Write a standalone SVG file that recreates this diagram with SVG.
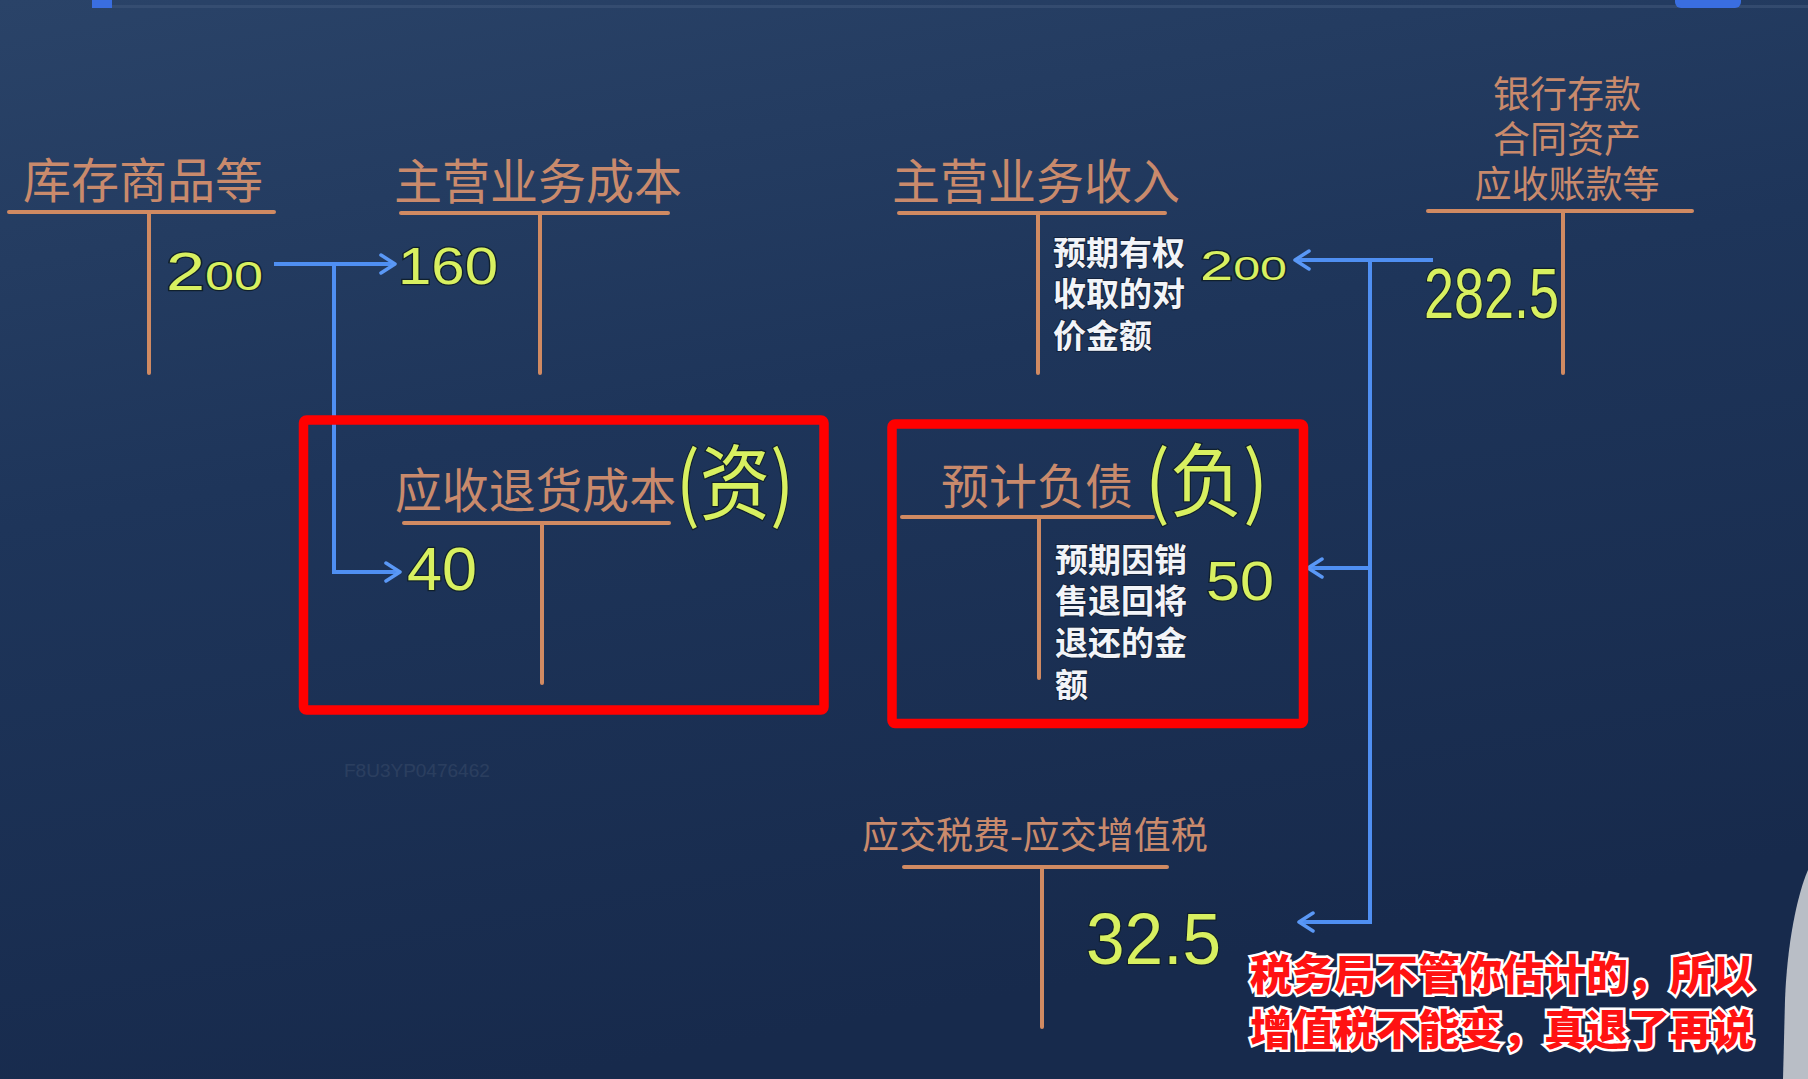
<svg xmlns="http://www.w3.org/2000/svg" width="1808" height="1079" viewBox="0 0 1808 1079">
<defs>
<linearGradient id="bg" x1="0" y1="0" x2="0.3" y2="1">
<stop offset="0" stop-color="#2a4368"/>
<stop offset="0.45" stop-color="#1e355a"/>
<stop offset="1" stop-color="#172a4c"/>
</linearGradient>
<marker id="arr" viewBox="-16 -11 20 22" refX="0" refY="0" markerWidth="20" markerHeight="22" markerUnits="userSpaceOnUse" orient="auto">
<path d="M -14 -9 L 0 0 L -14 9" fill="none" stroke="#5a98f6" stroke-width="3.5" stroke-linecap="round" stroke-linejoin="round"/>
</marker>
<style>
.hdr { font-family: "Noto Sans CJK SC", sans-serif; fill: #c98a6c; font-size: 48px; }
.hdr2 { font-family: "Noto Sans CJK SC", sans-serif; fill: #c98a6c; font-size: 37px; }
.tl { stroke: #d08a62; stroke-width: 4; stroke-linecap: round; fill: none; }
.wt { font-family: "Noto Sans CJK SC", sans-serif; font-weight: bold; fill: #f2f4f8; font-size: 33px; stroke: #14233c; stroke-width: 2; paint-order: stroke; }
.hw { font-family: "Liberation Sans", sans-serif; fill: #d8f060; stroke: #10202c; stroke-width: 2.5; paint-order: stroke; }
.hwc { font-family: "Noto Sans CJK SC", sans-serif; fill: #d8f060; stroke: #10202c; stroke-width: 2.5; paint-order: stroke; }
.conn { stroke: #4f8ff2; stroke-width: 4; fill: none; stroke-linejoin: miter; }
.box { fill: none; stroke: #ff0000; stroke-width: 9.5; }
.note { font-family: "Noto Sans CJK SC", sans-serif; font-weight: 900; fill: #ff1212; stroke: #ffffff; stroke-width: 5; paint-order: stroke; font-size: 42px; }
</style>
</defs>
<rect x="0" y="0" width="1808" height="1079" fill="url(#bg)"/>
<rect x="100" y="5" width="1708" height="3" fill="#3d5578" opacity="0.6"/>
<rect x="92" y="0" width="20" height="8" fill="#3a6ee0"/>
<rect x="1675" y="-6" width="66" height="14" rx="6" fill="#3a6ee0"/>
<path d="M 1808 870 C 1797 895 1787 945 1785 1000 L 1783 1079 L 1808 1079 Z" fill="#b9bec6"/>
<text x="344" y="777" font-family="Liberation Sans, sans-serif" font-size="19" fill="#ffffff" opacity="0.07">F8U3YP0476462</text>

<g id="connectors">
<path class="conn" d="M 274 264 H 395" marker-end="url(#arr)"/>
<path class="conn" d="M 334 264 V 572 H 400" marker-end="url(#arr)"/>
<path class="conn" d="M 1433 260 H 1295" marker-end="url(#arr)"/>
<path class="conn" d="M 1370 260 V 922 H 1299" marker-end="url(#arr)"/>
<path class="conn" d="M 1370 568 H 1308" marker-end="url(#arr)"/>
</g>

<g id="inventory">
<text class="hdr" x="23" y="198">库存商品等</text>
<line class="tl" x1="9" y1="212" x2="274" y2="212"/>
<line class="tl" x1="149" y1="212" x2="149" y2="373"/>
<text class="hw" x="166" y="290" font-size="54" textLength="97" lengthAdjust="spacingAndGlyphs">2<tspan font-size="40">00</tspan></text>
</g>

<g id="main-cost">
<text class="hdr" x="394" y="199">主营业务成本</text>
<line class="tl" x1="401" y1="213" x2="668" y2="213"/>
<line class="tl" x1="540" y1="213" x2="540" y2="373"/>
<text class="hw" x="398" y="284" font-size="52" textLength="100" lengthAdjust="spacingAndGlyphs">160</text>
</g>

<g id="main-revenue">
<text class="hdr" x="892" y="199">主营业务收入</text>
<line class="tl" x1="899" y1="213" x2="1165" y2="213"/>
<line class="tl" x1="1038" y1="213" x2="1038" y2="373"/>
<text class="wt" x="1053" y="265">预期有权<tspan x="1053" dy="41">收取的对</tspan><tspan x="1053" dy="42">价金额</tspan></text>
<text class="hw" x="1200" y="280" font-size="42" textLength="87" lengthAdjust="spacingAndGlyphs">2<tspan font-size="34">00</tspan></text>
</g>

<g id="bank-receivable">
<text class="hdr2" x="1567" y="108" text-anchor="middle">银行存款<tspan x="1567" dy="45">合同资产</tspan><tspan x="1567" dy="45">应收账款等</tspan></text>
<line class="tl" x1="1428" y1="211" x2="1692" y2="211"/>
<line class="tl" x1="1563" y1="211" x2="1563" y2="373"/>
<text class="hw" x="1424" y="318" font-size="70" textLength="135" lengthAdjust="spacingAndGlyphs">282.5</text>
</g>

<g id="return-cost">
<rect class="box" x="303.5" y="420" width="520.5" height="290" rx="3"/>
<text class="hdr" x="395" y="508" textLength="281" lengthAdjust="spacingAndGlyphs">应收退货成本</text>
<line class="tl" x1="404" y1="523" x2="669" y2="523"/>
<line class="tl" x1="542" y1="523" x2="542" y2="683"/>
<text class="hwc" x="676" y="513" font-size="82" textLength="118" lengthAdjust="spacingAndGlyphs">(资)</text>
<text class="hw" x="407" y="590" font-size="62" textLength="70" lengthAdjust="spacingAndGlyphs">40</text>
</g>

<g id="estimated-liability">
<rect class="box" x="892" y="424" width="411.5" height="299.5" rx="3"/>
<text class="hdr" x="941" y="504">预计负债</text>
<line class="tl" x1="902" y1="517" x2="1153" y2="517"/>
<line class="tl" x1="1039" y1="517" x2="1039" y2="678"/>
<text class="wt" x="1055" y="572">预期因销<tspan x="1055" dy="41">售退回将</tspan><tspan x="1055" dy="42">退还的金</tspan><tspan x="1055" dy="42">额</tspan></text>
<text class="hwc" x="1145" y="510" font-size="80" textLength="123" lengthAdjust="spacingAndGlyphs">(负)</text>
<text class="hw" x="1206" y="600" font-size="56" textLength="68" lengthAdjust="spacingAndGlyphs">50</text>
</g>

<g id="vat-payable">
<text class="hdr2" x="862" y="849" font-size="36">应交税费-应交增值税</text>
<line class="tl" x1="904" y1="867" x2="1167" y2="867"/>
<line class="tl" x1="1042" y1="867" x2="1042" y2="1027"/>
<text class="hw" x="1086" y="964" font-size="72" textLength="135" lengthAdjust="spacingAndGlyphs">32.5</text>
</g>

<g id="note">
<text class="note" x="1250" y="990">税务局不管你估计的，所以<tspan x="1250" dy="55">增值税不能变，真退了再说</tspan></text>
</g>
</svg>
